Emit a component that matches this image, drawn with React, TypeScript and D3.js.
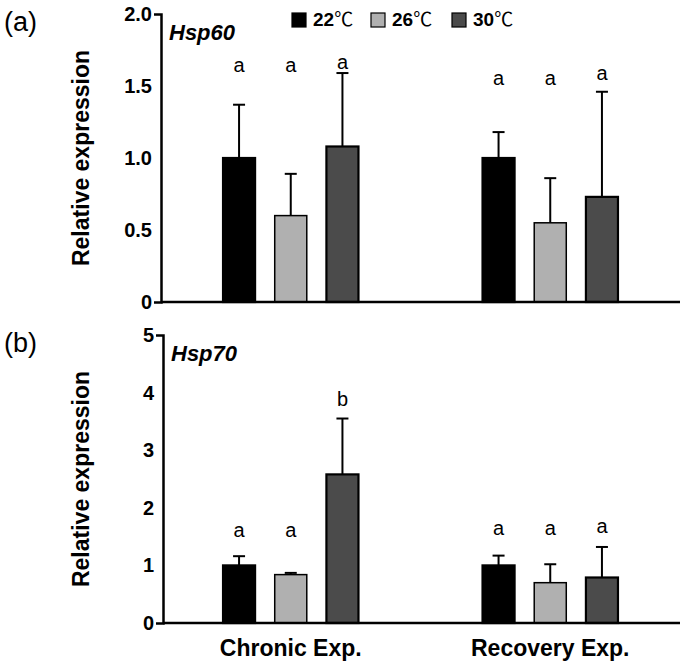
import * as d3 from 'd3';
import { useEffect, useRef } from 'react';

const groups = ['Chronic Exp.', 'Recovery Exp.'];
const temps = ['22℃', '26℃', '30℃'];
const tempFills = ['#000000', '#b0b0b0', '#4b4b4b'];

// Hsp60, per group: [22, 26, 30]
const hsp60Means = [
  [1.0, 0.6, 1.08],
  [1.0, 0.55, 0.73]
];
const hsp60ErrTops = [
  [1.37, 0.89, 1.59],
  [1.18, 0.86, 1.46]
];
const hsp60Letters = [
  ['a', 'a', 'a'],
  ['a', 'a', 'a']
];
const hsp60LetterAt = [
  [1.65, 1.65, 1.67],
  [1.56, 1.56, 1.59]
];
const hsp60Ticks = [0, 0.5, 1.0, 1.5, 2.0];

// Hsp70
const hsp70Means = [
  [1.0, 0.84, 2.58],
  [1.0, 0.7, 0.79]
];
const hsp70ErrTops = [
  [1.16, 0.87, 3.55],
  [1.17, 1.02, 1.32]
];
const hsp70Letters = [
  ['a', 'a', 'b'],
  ['a', 'a', 'a']
];
const hsp70LetterAt = [
  [1.61, 1.61, 3.89],
  [1.66, 1.66, 1.69]
];
const hsp70Ticks = [0, 1, 2, 3, 4, 5];

const FONT = "'Liberation Sans', Arial, 'Noto Sans CJK SC', sans-serif";

type Panel = {
  tag: string;
  gene: string;
  means: number[][];
  errTops: number[][];
  letters: string[][];
  letterAt: number[][];
  ticks: number[];
  tickFmt: (d: number) => string;
  top: number;
  bottom: number;
  axisX: number;
};

const panels: Panel[] = [
  {
    tag: '(a)',
    gene: 'Hsp60',
    means: hsp60Means,
    errTops: hsp60ErrTops,
    letters: hsp60Letters,
    letterAt: hsp60LetterAt,
    ticks: hsp60Ticks,
    tickFmt: (d) => (d === 0 ? '0' : d3.format('.1f')(d)),
    top: 14,
    bottom: 302,
    axisX: 161
  },
  {
    tag: '(b)',
    gene: 'Hsp70',
    means: hsp70Means,
    errTops: hsp70ErrTops,
    letters: hsp70Letters,
    letterAt: hsp70LetterAt,
    ticks: hsp70Ticks,
    tickFmt: (d) => String(d),
    top: 335,
    bottom: 623,
    axisX: 163
  }
];

const WIDTH = 683;
const HEIGHT = 666;
const RIGHT = 680;

export default function App() {
  const svgRef = useRef<SVGSVGElement>(null);

  useEffect(() => {
    const svg = d3.select(svgRef.current);
    svg.selectAll('*').remove();

    const xGroup = d3.scaleBand().domain(groups).range([161, RIGHT]);
    const xTemp = d3
      .scaleBand()
      .domain(temps)
      .range([0, xGroup.bandwidth()])
      .paddingInner(0.38)
      .paddingOuter(1.2);

    panels.forEach((p) => {
      const yScale = d3
        .scaleLinear()
        .domain([0, d3.max(p.ticks)!])
        .range([p.bottom, p.top]);

      const g = svg.append('g');

      // bars
      groups.forEach((grp, gi) => {
        const gx = xGroup(grp)!;
        temps.forEach((t, ti) => {
          const x = gx + xTemp(t)!;
          const w = xTemp.bandwidth();
          const cx = x + w / 2;
          const mean = p.means[gi][ti];
          const errTop = p.errTops[gi][ti];

          g.append('line')
            .attr('x1', cx)
            .attr('x2', cx)
            .attr('y1', yScale(mean))
            .attr('y2', yScale(errTop))
            .attr('stroke', '#000')
            .attr('stroke-width', 2);
          g.append('line')
            .attr('x1', cx - 6)
            .attr('x2', cx + 6)
            .attr('y1', yScale(errTop))
            .attr('y2', yScale(errTop))
            .attr('stroke', '#000')
            .attr('stroke-width', 2);

          g.append('rect')
            .attr('x', x)
            .attr('y', yScale(mean))
            .attr('width', w)
            .attr('height', yScale(0) - yScale(mean))
            .attr('fill', tempFills[ti])
            .attr('stroke', '#000')
            .attr('stroke-width', ti === 1 ? 1.5 : 2.2);

          g.append('text')
            .attr('x', cx)
            .attr('y', yScale(p.letterAt[gi][ti]))
            .attr('dy', '0.36em')
            .attr('text-anchor', 'middle')
            .attr('font-family', FONT)
            .attr('font-size', 20)
            .text(p.letters[gi][ti]);
        });
      });

      // y axis
      g.append('g')
        .attr('transform', `translate(${p.axisX},0)`)
        .call(
          d3
            .axisLeft(yScale)
            .tickValues(p.ticks)
            .tickFormat((d) => p.tickFmt(d as number))
            .tickSizeInner(0)
            .tickSizeOuter(7)
            .tickPadding(9)
        )
        .call((ax) => {
          ax.select('.domain').attr('stroke-width', 2.5);
          ax.selectAll('.tick text')
            .attr('font-family', FONT)
            .attr('font-size', 20)
            .attr('font-weight', 'bold')
            .attr('fill', '#000');
        });

      // x baseline
      g.append('line')
        .attr('x1', p.axisX)
        .attr('x2', RIGHT)
        .attr('y1', yScale(0))
        .attr('y2', yScale(0))
        .attr('stroke', '#000')
        .attr('stroke-width', 2.5);

      // y label
      g.append('text')
        .attr('transform', `translate(89,${(p.top + p.bottom) / 2}) rotate(-90)`)
        .attr('text-anchor', 'middle')
        .attr('font-family', FONT)
        .attr('font-size', 23)
        .attr('font-weight', 'bold')
        .text('Relative expression');

      // panel tag
      g.append('text')
        .attr('x', 4)
        .attr('y', p.top + 17)
        .attr('font-family', FONT)
        .attr('font-size', 27)
        .text(p.tag);

      // gene name
      g.append('text')
        .attr('x', p.axisX + 8)
        .attr('y', p.top + 26)
        .attr('font-family', FONT)
        .attr('font-size', 22)
        .attr('font-weight', 'bold')
        .attr('font-style', 'italic')
        .text(p.gene);
    });

    // category labels
    groups.forEach((grp) => {
      svg
        .append('text')
        .attr('x', xGroup(grp)! + xGroup.bandwidth() / 2)
        .attr('y', 656)
        .attr('text-anchor', 'middle')
        .attr('font-family', FONT)
        .attr('font-size', 23)
        .attr('font-weight', 'bold')
        .text(grp);
    });

    // legend
    const legendX = d3.scaleOrdinal<string, number>().domain(temps).range([292, 371, 452]);
    temps.forEach((t, i) => {
      const lx = legendX(t);
      svg
        .append('rect')
        .attr('x', lx)
        .attr('y', 13)
        .attr('width', 14)
        .attr('height', 14)
        .attr('fill', tempFills[i])
        .attr('stroke', '#000')
        .attr('stroke-width', 1.2);
      const txt = svg
        .append('text')
        .attr('x', lx + 21)
        .attr('y', 26)
        .attr('font-family', FONT)
        .attr('font-size', 19);
      txt.append('tspan').attr('font-weight', 'bold').text(t.replace('℃', ''));
      txt.append('tspan').text('℃');
    });
  }, []);

  return (
    <svg
      ref={svgRef}
      width={WIDTH}
      height={HEIGHT}
      style={{ position: 'absolute', left: 0, top: 0, background: '#fff' }}
    />
  );
}
